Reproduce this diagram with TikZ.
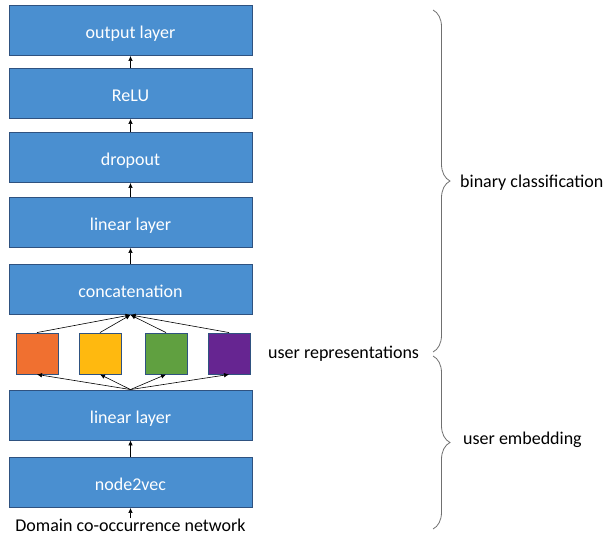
\documentclass[tikz,border=0pt]{standalone}
\usepackage{fontspec}
\setmainfont{Carlito}
\usetikzlibrary{arrows.meta,decorations.pathreplacing}
\definecolor{boxblue}{HTML}{4A8FD0}
\definecolor{boxedge}{HTML}{2F5280}
\definecolor{corange}{HTML}{F07030}
\definecolor{cyellow}{HTML}{FFB90F}
\definecolor{cgreen}{HTML}{60A040}
\definecolor{cpurple}{HTML}{662591}
\definecolor{bracegray}{HTML}{707070}
\tikzset{
  layer/.style={draw=boxedge,line width=0.9pt,fill=boxblue,minimum width=243pt,minimum height=50pt,inner sep=0pt,text height=16.5pt,text depth=0pt,text=white,font=\fontsize{18}{20}\selectfont},
  rep/.style={draw=boxedge,line width=0.9pt,minimum width=42pt,minimum height=41pt,inner sep=0pt},
  conn/.style={line width=0.6pt,-{Latex[length=5pt,width=4.5pt]}},
  lbl/.style={anchor=west,inner sep=0pt,font=\fontsize{18}{20}\selectfont},
  brc/.style={draw=bracegray,line width=0.8pt,decorate,decoration={brace,amplitude=17pt,aspect=0.5}}
}
\begin{document}
\begin{tikzpicture}[x=1pt,y=-1pt]
\useasboundingbox (0,0) rectangle (605,535);
\node[layer] (out) at (130.5,30.5) {output layer};
\node[layer] (relu) at (130.5,93.5) {ReLU};
\node[layer] (drop) at (130.5,157.5) {dropout};
\node[layer] (lin1) at (130.5,222.5) {linear layer};
\node[layer] (concat) at (130.5,289.5) {concatenation};
\node[rep,fill=corange] (r1) at (37,353.5) {};
\node[rep,fill=cyellow] (r2) at (100,353.5) {};
\node[rep,fill=cgreen] (r3) at (166,353.5) {};
\node[rep,fill=cpurple] (r4) at (229,353.5) {};
\node[layer] (lin2) at (130.5,415) {linear layer};
\node[layer] (n2v) at (130.5,482.5) {node2vec};
\node[inner sep=0pt,font=\fontsize{18}{20}\selectfont] (net) at (130.5,525) {Domain co-occurrence network};

\draw[conn] (net.north) -- (n2v.south);
\draw[conn] (n2v.north) -- (lin2.south);
\foreach \r in {r1,r2,r3,r4}{
  \draw[conn] (lin2.north) -- (\r.south);
  \draw[conn] (\r.north) -- (concat.south);
}
\draw[conn] (concat.north) -- (lin1.south);
\draw[conn] (lin1.north) -- (drop.south);
\draw[conn] (drop.north) -- (relu.south);
\draw[conn] (relu.north) -- (out.south);

\draw[brc] (433,10) -- (433,352);
\draw[brc] (433,356) -- (433,529);
\node[lbl] (bc) at (460,183) {binary classification};
\node[lbl] (ur) at (268,354) {user representations};
\node[lbl] (ue) at (463,440) {user embedding};
\end{tikzpicture}
\end{document}
